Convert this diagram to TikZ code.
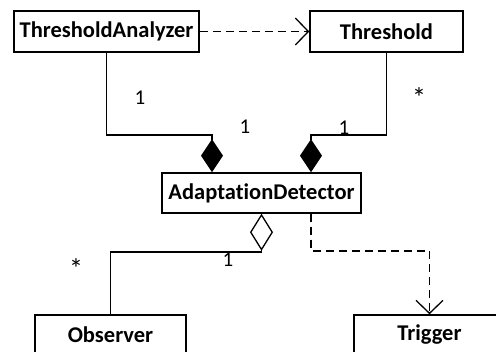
\documentclass[tikz,border=0pt]{standalone}
\usepackage{fontspec}
\setmainfont{Carlito}[Ligatures=NoCommon]
\usetikzlibrary{arrows.meta}
\tikzset{
  cls/.style={draw, line width=1.5pt, minimum height=41pt, inner sep=0pt,
    font=\fontsize{22.5}{26}\selectfont\bfseries, anchor=center},
  conn/.style={line width=1.3pt},
  comp/.style={conn, -{Diamond[length=33pt,width=22pt,fill=black]}},
  agg/.style={conn, -{Diamond[open,length=37pt,width=23pt,fill=white]}},
  dep/.style={conn, dash pattern=on 8pt off 5pt, -{Straight Barb[length=13pt,width=27pt,line width=1.3pt]}},
  mult/.style={font=\fontsize{21}{24}\selectfont, anchor=base, inner sep=0pt},
  star/.style={font=\fontsize{28}{30}\selectfont, anchor=base, inner sep=0pt}
}
\begin{document}
\begin{tikzpicture}[x=1pt,y=-1pt]
\clip (0,0) rectangle (496,352);
\fill[white] (0,0) rectangle (496,352);
\node[cls, minimum width=185pt] (TA) at (106.5,31.5) {ThresholdAnalyzer};
\node[cls, minimum width=153pt] (Th) at (386.5,31.5) {Threshold};
\node[cls, minimum width=199pt, minimum height=40pt] (AD) at (261.5,193) {AdaptationDetector};
\node[cls, minimum width=151pt, minimum height=40pt] (Ob) at (110.5,335) {Observer};
\node[cls, minimum width=151pt, minimum height=40pt] (Tr) at (429.5,335) {Trigger};
\coordinate (k1) at (212,135);
\coordinate (k2) at (311,135);
\coordinate (k3) at (261.5,252);
\coordinate (k4) at (311,251);
\draw[dep] (TA.east) -- (Th.west);
\draw[comp] (TA.south) |- (k1) -- (k1 |- AD.north);
\draw[comp] (Th.south) |- (k2) -- (k2 |- AD.north);
\draw[agg] (Ob.north) |- (k3) -- (AD.south);
\draw[dep] (k4 |- AD.south) -- (k4) -| (Tr.north);
\node[mult] (m1) at (140,105) {1};
\node[mult] (m2) at (245,134) {1};
\node[mult] (m3) at (344,135) {1};
\node[star] (m4) at (419,108) {*};
\node[star] (m5) at (76,279) {*};
\node[mult] (m6) at (228,267) {1};
\end{tikzpicture}
\end{document}
